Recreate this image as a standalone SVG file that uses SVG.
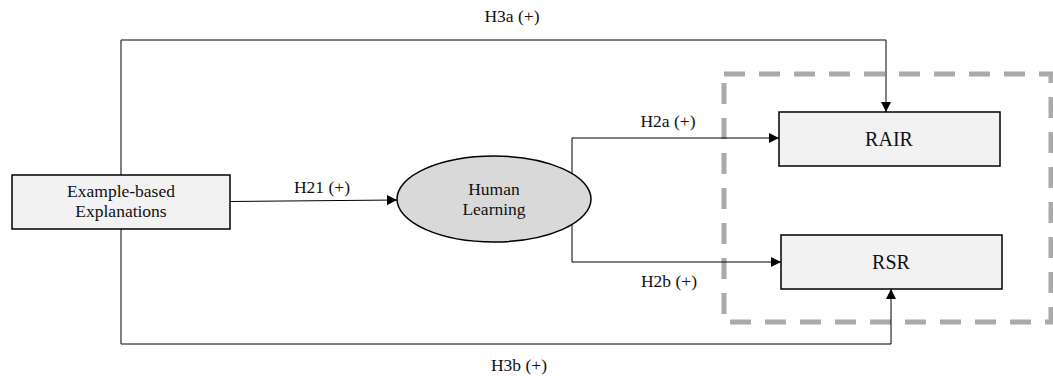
<svg xmlns="http://www.w3.org/2000/svg" width="1053" height="380" viewBox="0 0 1053 380">
  <style>
    text { font-family: "Liberation Serif", "Times New Roman", serif; fill: #111; }
    .lbl { font-size: 17.5px; text-anchor: middle; }
    .big { font-size: 20px; text-anchor: middle; }
    .node { fill: #f2f2f2; stroke: #000; stroke-width: 1.5; }
    .oval { fill: #d9d9d9; stroke: #000; stroke-width: 1.5; }
    .edge { fill: none; stroke: #000; stroke-width: 1; }
    .group { fill: none; stroke: #aaaaaa; stroke-width: 5; stroke-dasharray: 21 14; }
  </style>
  <defs>
    <marker id="arrow" viewBox="0 0 10 10" refX="10" refY="5" markerWidth="10" markerHeight="10" markerUnits="userSpaceOnUse" orient="auto">
      <path d="M0,0 L10,5 L0,10 z" fill="#000"/>
    </marker>
  </defs>

  <!-- outcome grouping -->
  <rect class="group" x="724" y="74" width="327" height="248"/>

  <!-- connectors -->
  <g id="connectors">
    <path class="edge" d="M230,201.5 L397,200" marker-end="url(#arrow)"/>
    <path class="edge" d="M572,175 L572,138 L779,138" marker-end="url(#arrow)"/>
    <path class="edge" d="M572,223 L572,262 L781,262" marker-end="url(#arrow)"/>
    <path class="edge" d="M121,175 L121,40 L886,40 L886,112" marker-end="url(#arrow)"/>
    <path class="edge" d="M121,229 L121,344 L891,344 L891,289" marker-end="url(#arrow)"/>
    <text class="lbl" x="322" y="193">H21 (+)</text>
    <text class="lbl" x="668" y="127">H2a (+)</text>
    <text class="lbl" x="669" y="287">H2b (+)</text>
    <text class="lbl" x="512" y="22">H3a (+)</text>
    <text class="lbl" x="519" y="371">H3b (+)</text>
  </g>

  <g id="example-based">
    <rect class="node" x="12" y="175" width="218" height="54"/>
    <text class="lbl" x="121" y="197">Example-based</text>
    <text class="lbl" x="121" y="217">Explanations</text>
  </g>

  <g id="human-learning">
    <ellipse class="oval" cx="494" cy="199" rx="97" ry="43"/>
    <text class="lbl" x="494" y="195">Human</text>
    <text class="lbl" x="494" y="215">Learning</text>
  </g>

  <g id="rair">
    <rect class="node" x="779" y="112" width="221" height="54"/>
    <text class="big" x="889" y="146">RAIR</text>
  </g>

  <g id="rsr">
    <rect class="node" x="781" y="235" width="221" height="54"/>
    <text class="big" x="891" y="269">RSR</text>
  </g>
</svg>
